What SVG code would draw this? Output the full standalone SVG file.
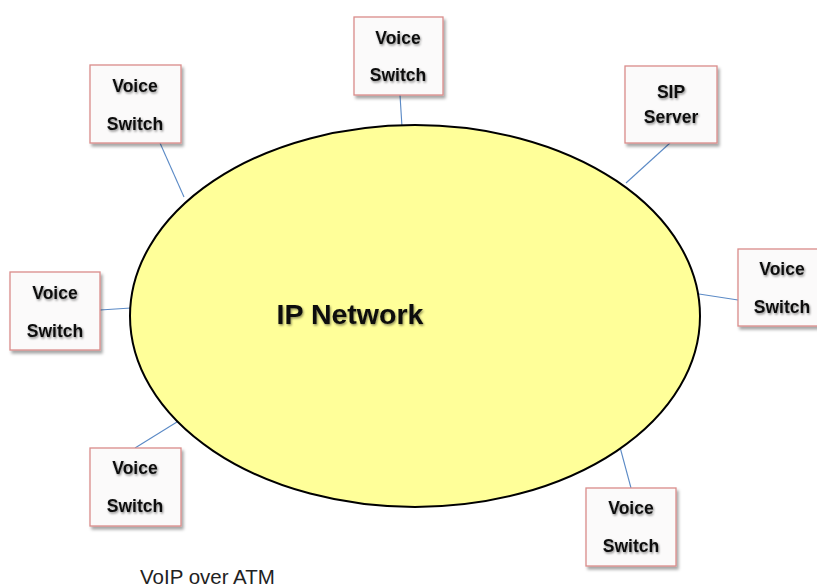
<svg xmlns="http://www.w3.org/2000/svg" width="817" height="588" viewBox="0 0 817 588">
<defs>
<filter id="bs" x="-10%" y="-10%" width="130%" height="130%"><feDropShadow dx="2" dy="3" stdDeviation="1.5" flood-color="#000" flood-opacity="0.35"/></filter>
<filter id="ts" x="-10%" y="-20%" width="130%" height="150%"><feDropShadow dx="1" dy="1.5" stdDeviation="1.2" flood-color="#000" flood-opacity="0.45"/></filter>
</defs>
<style>
.box{fill:#fbfafa;stroke:#d98c8a;stroke-width:1.3;filter:url(#bs)}
.lbl{font-family:"Liberation Sans",Arial,sans-serif;font-weight:bold;font-size:17.5px;fill:#111;text-anchor:middle;filter:url(#ts)}
.con line{stroke:#5b8ac6;stroke-width:1.1}
</style>
<rect width="817" height="588" fill="#fff"/>
<g class="con">
<line x1="160" y1="143" x2="184" y2="197"/>
<line x1="400" y1="95" x2="402" y2="127"/>
<line x1="670" y1="143" x2="626" y2="183"/>
<line x1="738" y1="300" x2="699" y2="294"/>
<line x1="100" y1="310" x2="131" y2="308"/>
<line x1="135" y1="448" x2="185" y2="417"/>
<line x1="631" y1="488" x2="617" y2="436"/>
</g>
<g id="ip-network">
<ellipse cx="415" cy="316" rx="285" ry="191" fill="#ffff99" stroke="#000" stroke-width="2"/>
<text x="350" y="324" style="font-family:'Liberation Sans',Arial,sans-serif;font-weight:bold;font-size:28.5px;fill:#111;text-anchor:middle;filter:url(#ts)">IP Network</text>
</g>
<g id="vs-topleft"><rect class="box" x="90" y="65" width="91" height="78"/><text class="lbl" x="135" y="92">Voice</text><text class="lbl" x="135" y="130">Switch</text></g>
<g id="vs-top"><rect class="box" x="354" y="17" width="89" height="78"/><text class="lbl" x="398" y="44">Voice</text><text class="lbl" x="398" y="81">Switch</text></g>
<g id="sip-server"><rect class="box" x="625" y="66" width="92" height="77"/><text class="lbl" x="671" y="98">SIP</text><text class="lbl" x="671" y="123">Server</text></g>
<g id="vs-right"><rect class="box" x="738" y="249" width="82" height="77"/><text class="lbl" x="782" y="275">Voice</text><text class="lbl" x="782" y="313">Switch</text></g>
<g id="vs-left"><rect class="box" x="10" y="272" width="90" height="78"/><text class="lbl" x="55" y="299">Voice</text><text class="lbl" x="55" y="337">Switch</text></g>
<g id="vs-bottomleft"><rect class="box" x="90" y="448" width="91" height="78"/><text class="lbl" x="135" y="474">Voice</text><text class="lbl" x="135" y="512">Switch</text></g>
<g id="vs-bottomright"><rect class="box" x="586" y="488" width="90" height="78"/><text class="lbl" x="631" y="514">Voice</text><text class="lbl" x="631" y="552">Switch</text></g>
<text x="140" y="584" style="font-family:'Liberation Sans',Arial,sans-serif;font-size:20.5px;fill:#222">VoIP over ATM</text>
</svg>
